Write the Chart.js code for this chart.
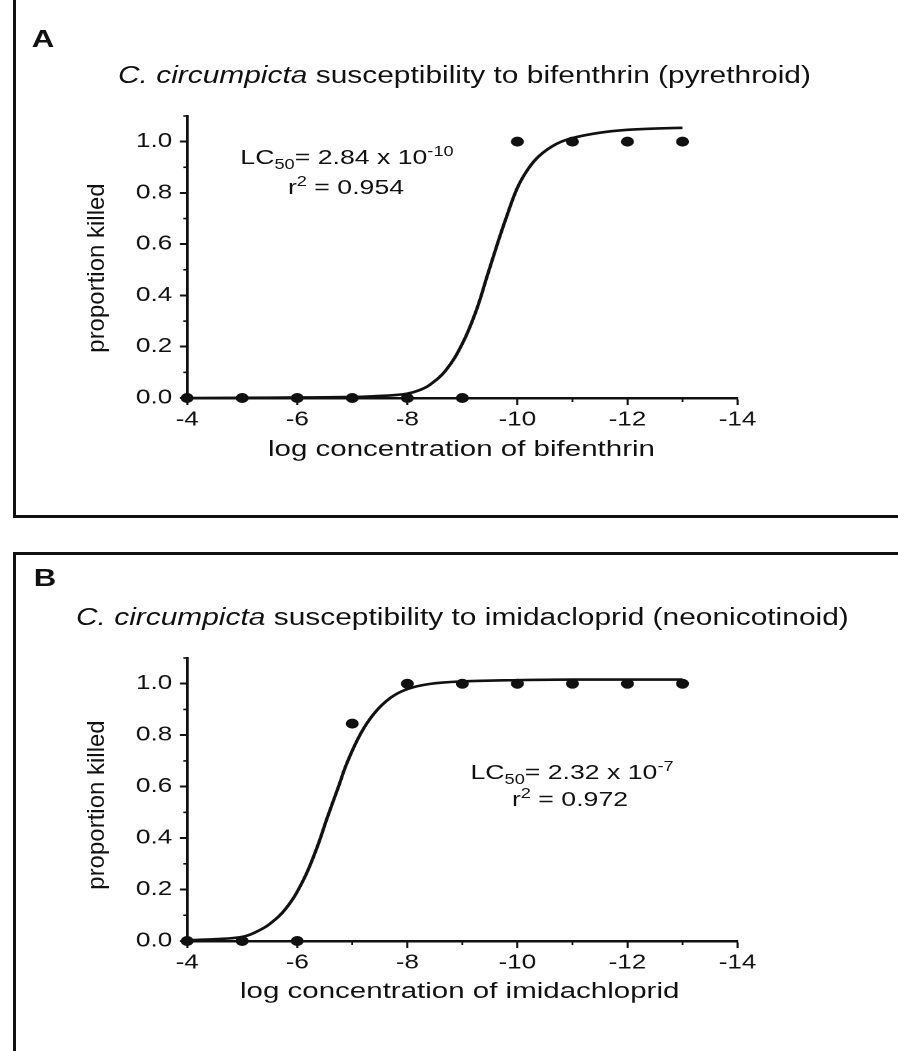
<!DOCTYPE html>
<html>
<head>
<meta charset="utf-8">
<script src="https://cdn.jsdelivr.net/npm/chart.js@4.4.1/dist/chart.umd.min.js"></script>
<style>
body { margin:0; width:898px; height:1051px; overflow:hidden; background:#fff; position:relative;
       font-family:"Liberation Sans", Arial, sans-serif; color:#111; }
.panel { position:absolute; left:13px; width:900px; border:3px solid #111; box-sizing:border-box; }
.plot { position:absolute; left:0; width:690.77px; transform:scaleX(1.3); transform-origin:0 0; }
.c, .l { position:absolute; white-space:nowrap; line-height:1; }
.c { transform:translate(-50%,-50%) scaleX(1.3); }
.l { transform:translateY(-50%) scaleX(1.3); transform-origin:0 50%; }
.letter { font-weight:bold; font-size:24px; }
.title { font-size:23px; }
.xt { font-size:22.7px; }
.note { font-size:20.5px; }
.note sub, .note sup { font-size:14px; line-height:0; }
.yt { position:absolute; white-space:nowrap; font-size:24px; line-height:1;
      transform:translate(-50%,-50%) rotate(-90deg); }
</style>
</head>
<body>

<div class="panel" style="top:-10px;height:528px"></div>
<div class="panel" style="top:552px;height:600px"></div>

<div class="plot" style="top:0;height:515px"><canvas id="chartA"></canvas></div>
<div class="plot" style="top:553px;height:498px"><canvas id="chartB"></canvas></div>

<div class="c letter" style="left:43px;top:39px">A</div>
<div class="l title" style="left:118px;top:75px"><i>C. circumpicta</i> susceptibility to bifenthrin (pyrethroid)</div>
<div class="yt" style="left:96px;top:268px">proportion killed</div>
<div class="l xt" style="left:268px;top:448px">log concentration of bifenthrin</div>
<div class="c note" style="left:347px;top:157px">LC<sub>50</sub>= 2.84 x 10<sup>-10</sup></div>
<div class="c note" style="left:346px;top:187px">r<sup>2</sup> = 0.954</div>

<div class="c letter" style="left:45px;top:578px">B</div>
<div class="l title" style="left:76px;top:617px"><i>C. circumpicta</i> susceptibility to imidacloprid (neonicotinoid)</div>
<div class="yt" style="left:96px;top:805px">proportion killed</div>
<div class="l xt" style="left:240px;top:990px">log concentration of imidachloprid</div>
<div class="c note" style="left:572px;top:772px">LC<sub>50</sub>= 2.32 x 10<sup>-7</sup></div>
<div class="c note" style="left:570px;top:799px">r<sup>2</sup> = 0.972</div>

<script>
// observed doses (log concentration) and proportion killed
const doses = [-4, -5, -6, -7, -8, -9, -10, -11, -12, -13]
const killedA = [0, 0, 0, 0, 0, 0, 1, 1, 1, 1]
const killedB = [0, 0, 0, 0.845, 1, 1, 1, 1, 1, 1]

// fitted curves
const fitAx = [-4, -5, -6, -7, -7.5, -7.75, -8, -8.2, -8.4, -8.7, -9, -9.25, -9.45, -9.65, -9.8, -10, -10.2, -10.4, -10.7, -11, -11.5, -12, -12.5, -13]
const fitAy = [0, 0.001, 0.002, 0.004, 0.008, 0.011, 0.017, 0.029, 0.05, 0.108, 0.212, 0.34, 0.475, 0.61, 0.705, 0.82, 0.895, 0.945, 0.99, 1.014, 1.035, 1.046, 1.051, 1.054]
const fitBx = [-4, -4.5, -5, -5.25, -5.5, -5.8, -6.1, -6.35, -6.55, -6.75, -6.9, -7.15, -7.4, -7.7, -8, -8.4, -9, -10, -11, -12, -13]
const fitBy = [0.003, 0.007, 0.016, 0.035, 0.066, 0.128, 0.232, 0.358, 0.482, 0.6, 0.69, 0.805, 0.885, 0.946, 0.979, 0.999, 1.009, 1.014, 1.016, 1.016, 1.016]

const xMajor = [-4, -6, -8, -10, -12, -14]
const xMinor = [-5, -7, -9, -11, -13]
const yMajor = [0, 0.2, 0.4, 0.6, 0.8, 1.0]
const yMinor = [0.1, 0.3, 0.5, 0.7, 0.9, 1.1]

const ink = '#111'

const minorTicks = {
    id: 'minorTicks',
    afterDraw(chart) {
        const { ctx, scales: { x, y } } = chart
        ctx.save()
        ctx.strokeStyle = ink
        ctx.lineWidth = 1.6
        yMinor.forEach((v) => {
            const py = y.getPixelForValue(v)
            ctx.beginPath()
            ctx.moveTo(y.right - 3, py)
            ctx.lineTo(y.right, py)
            ctx.stroke()
        })
        ctx.lineWidth = 1.4
        xMinor.forEach((v) => {
            const px = x.getPixelForValue(v)
            ctx.beginPath()
            ctx.moveTo(px, x.top)
            ctx.lineTo(px, x.top + 4)
            ctx.stroke()
        })
        ctx.restore()
    }
}

function make_chart(id, killed, fitX, fitY, padTop, padBottom) {
    return new Chart(document.getElementById(id), {
        type: 'scatter',
        data: {
            datasets: [{
                data: doses.map((d, i) => ({ x: d, y: killed[i] })),
                backgroundColor: ink,
                borderColor: ink,
                pointRadius: 4.5,
                pointHoverRadius: 4.5,
                clip: false,
            }, {
                type: 'line',
                data: fitX.map((d, i) => ({ x: d, y: fitY[i] })),
                borderColor: ink,
                borderWidth: 2.6,
                pointRadius: 0,
                tension: 0.4,
                fill: false,
                clip: false,
            }]
        },
        options: {
            responsive: true,
            maintainAspectRatio: false,
            animation: false,
            devicePixelRatio: 2,
            layout: { padding: { left: 0, right: 123.87, top: padTop, bottom: padBottom } },
            plugins: { legend: { display: false }, tooltip: { enabled: false } },
            scales: {
                x: {
                    type: 'linear',
                    min: -14,
                    max: -4,
                    reverse: true,
                    afterBuildTicks: (s) => { s.ticks = xMajor.map((v) => ({ value: v })) },
                    afterFit: (s) => { s.height = 40 },
                    border: { display: true, color: ink, width: 2.5 },
                    grid: { drawOnChartArea: false, color: ink, tickColor: ink, tickLength: 7, tickWidth: 1.6 },
                    ticks: {
                        color: ink,
                        padding: 3,
                        maxRotation: 0,
                        font: { family: 'Liberation Sans', size: 20 },
                        callback: (v) => String(v),
                    },
                },
                y: {
                    min: 0,
                    max: 1.1,
                    afterBuildTicks: (s) => { s.ticks = yMajor.map((v) => ({ value: v })) },
                    afterFit: (s) => { s.width = 143.85 },
                    border: { display: true, color: ink, width: 2 },
                    grid: { drawOnChartArea: false, color: ink, tickColor: ink, tickLength: 5.5, tickWidth: 2 },
                    ticks: {
                        color: ink,
                        padding: 6,
                        font: { family: 'Liberation Sans', size: 20 },
                        callback: (v) => v.toFixed(1),
                    },
                },
            },
        },
        plugins: [minorTicks],
    })
}

make_chart('chartA', killedA, fitAx, fitAy, 116, 515 - 398 - 40)
make_chart('chartB', killedB, fitBx, fitBy, 105, 498 - 388 - 40)
</script>
</body>
</html>
